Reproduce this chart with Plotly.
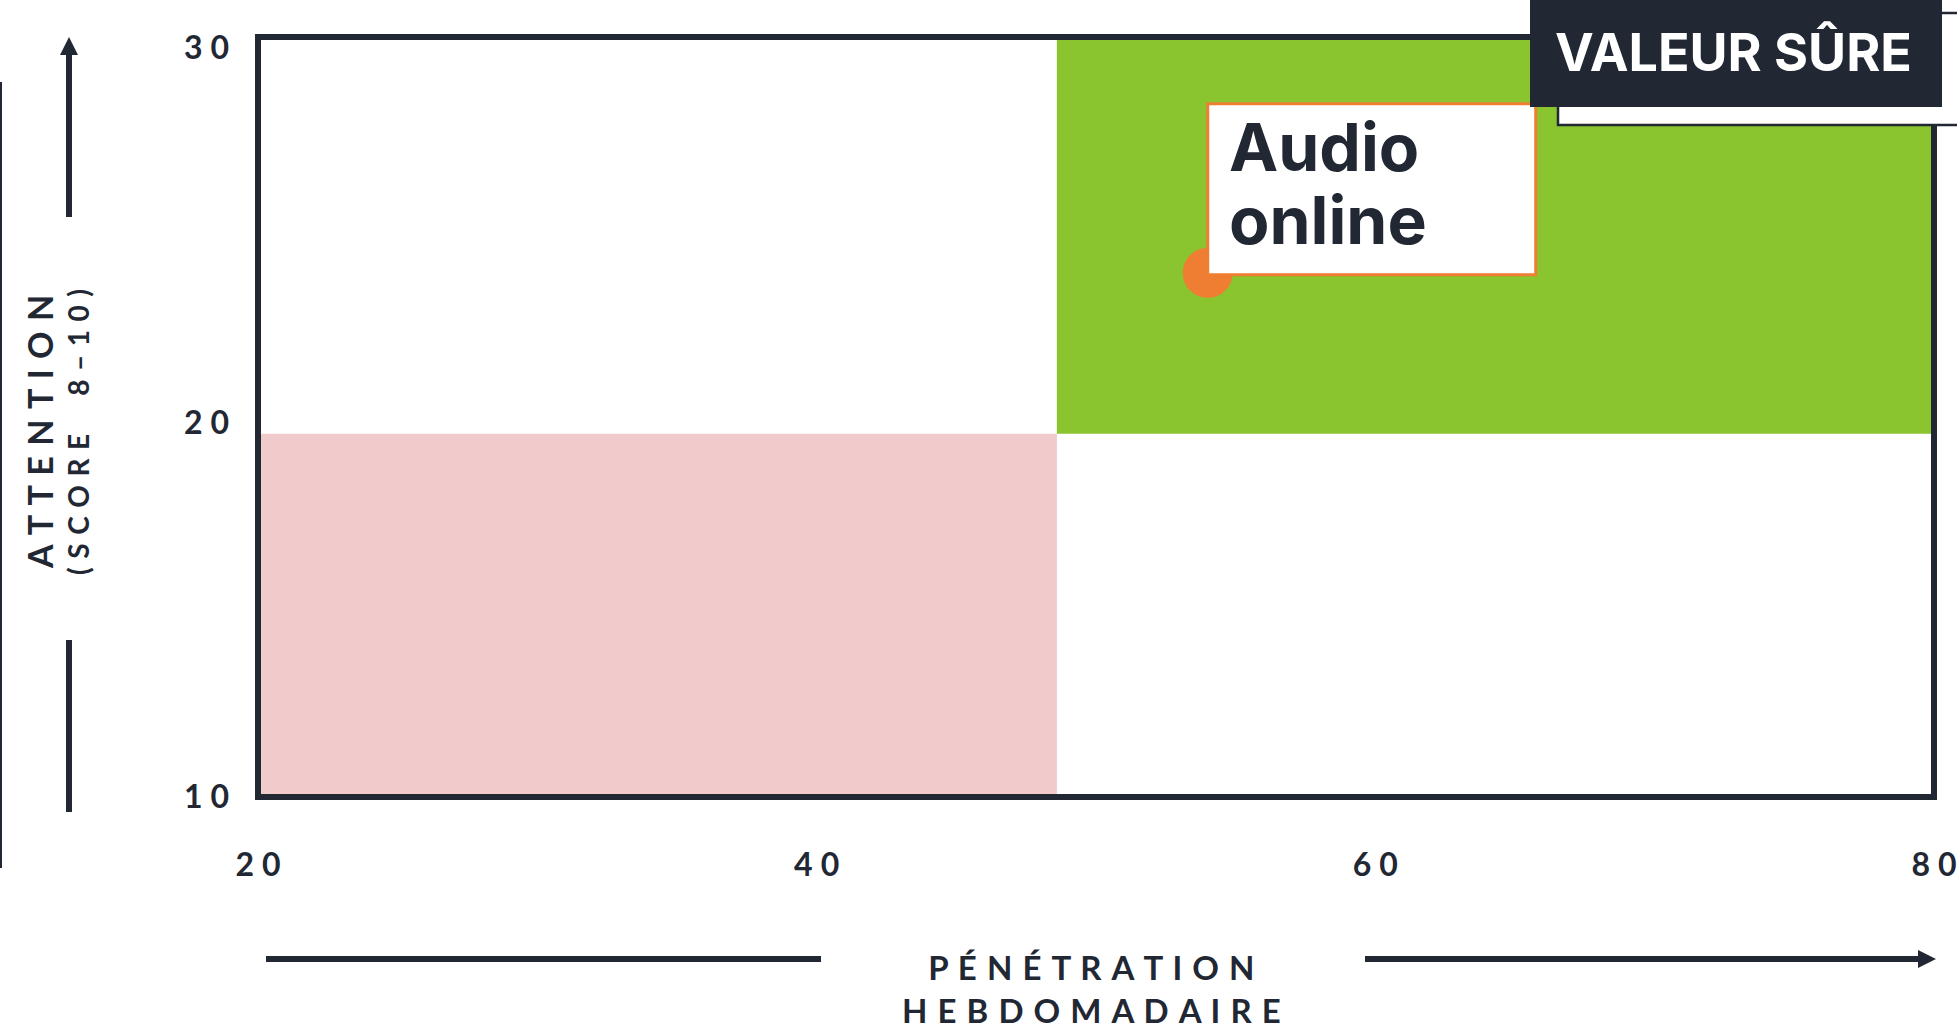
import plotly.graph_objects as go

# ---- data ----
x_ticks = [20, 40, 60, 80]
y_ticks = [10, 20, 30]
x_tick_labels = ["20", "40", "60", "80"]
y_tick_labels = ["10", "20", "30"]
x_range = [20, 80]
y_range = [10, 30.3]

media = ["Audio online"]
penetration = [54]
attention = [24]

penetration_threshold = 48.6
attention_threshold = 19.7

quadrant_label = "VALEUR SÛRE"
x_title_lines = ["PÉNÉTRATION", "HEBDOMADAIRE"]
y_title = "ATTENTION"
y_subtitle = "(SCORE 8–10)"

DARK = "#212733"
GREEN = "#8AC42E"
PINK = "#F1CACB"
ORANGE = "#EF7E32"

W, H = 1957, 1030
L, R, T, B = 258, 23, 37, 233
PW, PH = W - L - R, H - T - B


def px(xp):
    return (xp - L) / PW


def py(yp):
    return (H - B - yp) / PH


def spaced(s, sep=" "):
    out = []
    for ch in s:
        out.append("\u2003" if ch == " " else ch)
    return sep.join(out)


fig = go.Figure()

fig.add_trace(go.Scatter(
    x=penetration, y=attention, mode="markers",
    marker=dict(size=50, color=ORANGE, line=dict(width=0)),
    hoverinfo="skip", showlegend=False,
))

shapes = []
# quadrants (data coordinates)
shapes.append(dict(type="rect", xref="x", yref="y", x0=x_range[0], x1=penetration_threshold,
                   y0=y_range[0], y1=attention_threshold, fillcolor=PINK, line=dict(width=0), layer="below"))
shapes.append(dict(type="rect", xref="x", yref="y", x0=penetration_threshold, x1=x_range[1],
                   y0=attention_threshold, y1=y_range[1], fillcolor=GREEN, line=dict(width=0), layer="below"))
# label box anchored at the data point
shapes.append(dict(type="rect", xref="x", yref="y", xsizemode="pixel", ysizemode="pixel",
                   xanchor=penetration[0], yanchor=attention[0], x0=0, x1=328, y0=-2, y1=169,
                   fillcolor="white", line=dict(color=ORANGE, width=3), layer="above"))
# frame
shapes.append(dict(type="rect", xref="paper", yref="paper", x0=0, x1=1, y0=0, y1=1,
                   line=dict(color=DARK, width=6), fillcolor="rgba(0,0,0,0)", layer="above"))
# white shadow box behind quadrant label
shapes.append(dict(type="rect", xref="paper", yref="paper", x0=px(1558), x1=px(1990), y0=py(125), y1=py(13),
                   line=dict(color=DARK, width=2.5), fillcolor="white", layer="above"))
# dark quadrant label box
shapes.append(dict(type="rect", xref="paper", yref="paper", x0=px(1530), x1=px(1942), y0=py(107), y1=py(-10),
                   line=dict(width=0), fillcolor=DARK, layer="above"))
# thin left edge line
shapes.append(dict(type="line", xref="paper", yref="paper", x0=px(1), x1=px(1), y0=py(82), y1=py(868),
                   line=dict(color=DARK, width=2)))
# vertical axis arrow
shapes.append(dict(type="line", xref="paper", yref="paper", x0=px(69), x1=px(69), y0=py(217), y1=py(50),
                   line=dict(color=DARK, width=6)))
shapes.append(dict(type="path", xref="paper", yref="paper",
                   path=f"M {px(69)} {py(37)} L {px(60)} {py(55)} L {px(78)} {py(55)} Z",
                   fillcolor=DARK, line=dict(width=0)))
shapes.append(dict(type="line", xref="paper", yref="paper", x0=px(69), x1=px(69), y0=py(640), y1=py(812),
                   line=dict(color=DARK, width=6)))
# horizontal axis arrow
shapes.append(dict(type="line", xref="paper", yref="paper", x0=px(266), x1=px(821), y0=py(959), y1=py(959),
                   line=dict(color=DARK, width=6)))
shapes.append(dict(type="line", xref="paper", yref="paper", x0=px(1365), x1=px(1922), y0=py(959), y1=py(959),
                   line=dict(color=DARK, width=6)))
shapes.append(dict(type="path", xref="paper", yref="paper",
                   path=f"M {px(1936)} {py(959)} L {px(1918)} {py(950)} L {px(1918)} {py(968)} Z",
                   fillcolor=DARK, line=dict(width=0)))

annotations = []
# point label, one annotation per word (tight line spacing)
words = media[0].split(" ")
for i, w in enumerate(words):
    annotations.append(dict(
        x=penetration[0], y=attention[0], xref="x", yref="y", text=w,
        showarrow=False, xanchor="left", yanchor="bottom", align="left",
        xshift=19, yshift=11 + (len(words) - 1 - i) * 73,
        font=dict(family="Inter", size=66, color=DARK, weight=700),
    ))
# quadrant label
annotations.append(dict(
    x=px(1733), y=py(53), xref="paper", yref="paper", text=quadrant_label,
    showarrow=False, xanchor="center", yanchor="middle",
    font=dict(family="Inter", size=52, color="white", weight=700),
))
# x title
annotations.append(dict(
    x=px(1091), y=py(989), xref="paper", yref="paper",
    text="<br>".join(spaced(s, " \u200a") for s in x_title_lines),
    showarrow=False, xanchor="center", yanchor="middle", align="center",
    font=dict(family="Lato", size=33, color=DARK, weight=700),
))
# y title
annotations.append(dict(
    x=px(39), y=py(432), xref="paper", yref="paper", text=spaced(y_title, " \u200a"),
    showarrow=False, xanchor="center", yanchor="middle", textangle=-90,
    font=dict(family="Lato", size=34, color=DARK, weight=700),
))
annotations.append(dict(
    x=px(78), y=py(432), xref="paper", yref="paper", text=spaced(y_subtitle, " \u200a"),
    showarrow=False, xanchor="center", yanchor="middle", textangle=-90,
    font=dict(family="Lato", size=28, color=DARK, weight=700),
))

tick_font = dict(family="Lato", size=32, color=DARK, weight=700)
fig.update_layout(
    width=W, height=H,
    margin=dict(l=L, r=R, t=T, b=B, autoexpand=False),
    paper_bgcolor="white", plot_bgcolor="white",
    shapes=shapes, annotations=annotations,
    showlegend=False,
    xaxis=dict(range=x_range, tickvals=x_ticks, ticktext=[spaced(t, "\u2009\u2009") for t in x_tick_labels],
               showgrid=False, zeroline=False, automargin=False,
               showline=False, ticks="", ticklabelstandoff=46, tickfont=tick_font),
    yaxis=dict(range=y_range, tickvals=y_ticks, ticktext=[spaced(t, "\u2009\u2009") for t in y_tick_labels],
               showgrid=False, zeroline=False, automargin=False,
               showline=False, ticks="", ticklabelstandoff=28, tickfont=tick_font),
)

fig.write_html("out.html")
